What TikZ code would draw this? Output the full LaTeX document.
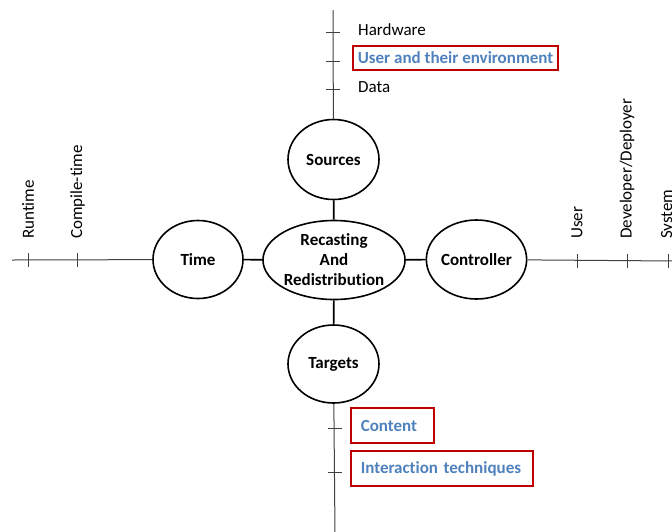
\documentclass[tikz,border=0pt]{standalone}
\usepackage{fontspec}
\setmainfont{Carlito}[Ligatures=NoCommon]
\usetikzlibrary{shapes.geometric}

\definecolor{tagblue}{RGB}{79,129,189}
\definecolor{tagred}{RGB}{192,0,0}

\begin{document}
\begin{tikzpicture}[x=1pt,y=-1pt,font=\fontsize{17}{20}\selectfont,
  oval/.style={ellipse,draw,line width=1.6pt,inner sep=0pt,font=\fontsize{17}{20}\selectfont\bfseries,align=center},
  axis/.style={draw=black!75,line width=1pt},
  link/.style={line width=1.6pt},
  tag/.style={draw=tagred,line width=1.6pt,text=tagblue,font=\fontsize{17}{20}\selectfont\bfseries,anchor=west,align=left},
  item/.style={anchor=west,inner sep=0pt},
  vlabel/.style={rotate=90,anchor=west,inner sep=0pt}]
\useasboundingbox (0,0) rectangle (672,531);
% the five ovals
\node[oval,minimum width=132pt,minimum height=79pt] (rr) at (334,260) {Recasting\\And\\Redistribution};
\node[oval,minimum width=91pt,minimum height=80pt] (src) at (333.5,159.5) {Sources};
\node[oval,minimum width=91pt,minimum height=78pt] (tgt) at (333.5,364) {Targets};
\node[oval,minimum width=90pt,minimum height=78pt] (time) at (198,259.5) {Time};
\node[oval,minimum width=91pt,minimum height=79pt] (ctl) at (476.5,259.5) {Controller};
\draw[link] (src) -- (rr);
\draw[link] (rr) -- (tgt);
\draw[link] (time) -- (rr);
\draw[link] (rr) -- (ctl);
% sources axis
\coordinate (srcend) at (333,10);
\coordinate (s1) at (333,32);
\coordinate (s2) at (333,61);
\coordinate (s3) at (333,89);
\draw[axis] (src) -- (srcend);
\foreach \c in {s1,s2,s3}
  \draw[axis] ([xshift=-7pt]\c) -- ([xshift=7pt]\c);
\node[item] (hw) at (358,30) {Hardware};
\node[tag,minimum height=24pt,inner xsep=5pt] (user) at (352,58) {User and their environment};
\node[item] (data) at (358,87) {Data};
% targets axis
\coordinate (tgtend) at (335,535);
\coordinate (g1) at (335,428);
\coordinate (g2) at (335,472);
\draw[axis] (tgt) -- (tgtend);
\foreach \c in {g1,g2}
  \draw[axis] ([xshift=-7pt]\c) -- ([xshift=7pt]\c);
\node[tag,minimum height=35pt,text width=63pt,inner xsep=10pt] (content) at (350,425.5) {Content};
\node[tag,minimum height=35pt,text width=162pt,inner xsep=10pt] (inter) at (350,468.5) {Interaction techniques};
% time axis
\coordinate (timeend) at (12,260);
\coordinate (m1) at (28,260);
\coordinate (m2) at (77,260);
\draw[axis] (time) -- (timeend);
\foreach \c in {m1,m2}
  \draw[axis] ([yshift=-7pt]\c) -- ([yshift=7pt]\c);
\node[vlabel] (run) at (28,239) {Runtime};
\node[vlabel] (comp) at (77.5,239) {Compile-time};
% controller axis
\coordinate (ctlend) at (675,261);
\coordinate (c1) at (577,261);
\coordinate (c2) at (627,261);
\coordinate (c3) at (668,261);
\draw[axis] (ctl) -- (ctlend);
\foreach \c in {c1,c2,c3}
  \draw[axis] ([yshift=-7pt]\c) -- ([yshift=7pt]\c);
\node[vlabel] (usr) at (577,239) {User};
\node[vlabel] (dev) at (627,239) {Developer/Deployer};
\node[vlabel] (sys) at (668,239) {System};
\end{tikzpicture}
\end{document}
